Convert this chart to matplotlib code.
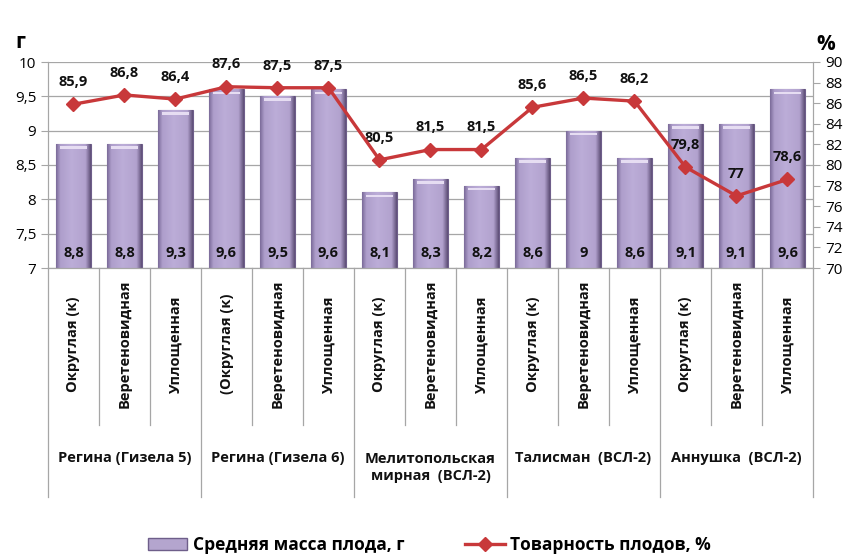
import numpy as np
import matplotlib
matplotlib.use('Agg')
import matplotlib.pyplot as plt
from matplotlib.colors import LinearSegmentedColormap
from matplotlib.patches import Rectangle
from matplotlib.lines import Line2D
import matplotlib.transforms as mtransforms

plt.rcParams['font.family'] = ['Open Sans', 'DejaVu Sans']

# данные
forms = ['Округлая (к)', 'Веретеновидная', 'Уплощенная',
         '(Округлая (к)', 'Веретеновидная', 'Уплощенная',
         'Округлая (к)', 'Веретеновидная', 'Уплощенная',
         'Округлая (к)', 'Веретеновидная', 'Уплощенная',
         'Округлая (к)', 'Веретеновидная', 'Уплощенная']
groups = ['Регина (Гизела 5)', 'Регина (Гизела 6)', 'Мелитопольская\nмирная  (ВСЛ-2)',
          'Талисман  (ВСЛ-2)', 'Аннушка  (ВСЛ-2)']
mass = [8.8, 8.8, 9.3, 9.6, 9.5, 9.6, 8.1, 8.3, 8.2, 8.6, 9, 8.6, 9.1, 9.1, 9.6]
market = [85.9, 86.8, 86.4, 87.6, 87.5, 87.5, 80.5, 81.5, 81.5, 85.6, 86.5, 86.2, 79.8, 77, 78.6]


def fmt(v):
    s = ('%g' % v).replace('.', ',')
    return s


fig = plt.figure(figsize=(8.5, 5.54), dpi=100)
ax = fig.add_axes([48 / 850, 1 - 268 / 554, (813 - 48) / 850, (268 - 62) / 554])
ax2 = ax.twinx()

x = np.arange(len(mass))
bw = 0.68

# столбцы с градиентом
cmap = LinearSegmentedColormap.from_list('bar', [(0, '#7C6C9A'), (0.12, '#AE9ECB'), (0.45, '#BCADD8'),
                                                 (0.85, '#B2A2CE'), (1, '#5F5078')])
grad = np.linspace(0, 1, 64).reshape(1, -1)
bars = ax.bar(x, [m - 7 for m in mass], bw, bottom=7, color='#B4A5CE', edgecolor='#6E5E8A',
              linewidth=0.8, zorder=2)
for b in bars:
    x0, y0 = b.get_x(), b.get_y()
    im = ax.imshow(grad, extent=[x0, x0 + b.get_width(), y0, y0 + b.get_height()],
                   aspect='auto', cmap=cmap, zorder=2.1)
    im.set_clip_path(b)
    # светлая верхняя кромка
    ax.add_patch(Rectangle((x0 + 0.08, y0 + b.get_height() - 0.07), b.get_width() - 0.16, 0.04,
                           color='#E6DDF2', zorder=2.2, lw=0))

for xi, m in zip(x, mass):
    ax.text(xi, 7.22, fmt(m), ha='center', va='center', fontsize=10.5, fontweight='bold',
            color='#111111', zorder=3)

ax.set_xlim(-0.5, len(mass) - 0.5)
ax.set_ylim(7, 10)
ax.set_yticks(np.arange(7, 10.01, 0.5))
ax.set_yticklabels([fmt(v) for v in np.arange(7, 10.01, 0.5)])
ax.yaxis.grid(True, color='#A6A6A6', lw=0.9, zorder=0)
ax.set_axisbelow(True)
ax.set_xticks([])
ax.tick_params(axis='y', length=5, color='#A6A6A6', labelsize=11)

ax2.plot(x, market, color='#C8383A', lw=2.4, marker='D', markersize=7, zorder=5)
for xi, v in zip(x, market):
    ax2.annotate(fmt(v), (xi, v), xytext=(0, 16), textcoords='offset points', ha='center',
                 va='center', fontsize=10.5, fontweight='bold', color='#111111')
ax2.set_ylim(70, 90)
ax2.set_yticks(np.arange(70, 91, 2))
ax2.tick_params(axis='y', length=5, color='#A6A6A6', labelsize=11)

for a in (ax, ax2):
    for s in a.spines.values():
        s.set_color('#A6A6A6')
    a.spines['top'].set_visible(False)

# подписи категорий под осью
tr = mtransforms.blended_transform_factory(ax.transData, ax.transAxes)
for i in range(len(mass) + 1):
    bottom = -1.11 if i % 3 == 0 else -0.762
    ax.plot([i - 0.5, i - 0.5], [0, bottom], transform=tr, color='#A6A6A6', lw=0.9, clip_on=False)
for xi, f in zip(x, forms):
    ax.text(xi, -0.37, f, transform=tr, rotation=90, ha='center', va='center', fontsize=10.5,
            fontweight='bold', color='#111111')
for g, name in enumerate(groups):
    ypos = -0.97 if '\n' in name else -0.92
    ax.text(3 * g + 1, ypos, name, transform=tr, ha='center', va='center', fontsize=10.5,
            fontweight='bold', color='#111111', linespacing=1.3)

fig.text(15 / 850, 1 - 42 / 554, 'г', fontsize=15, fontweight='bold', ha='left', va='center')
fig.text(826 / 850, 1 - 44 / 554, '%', fontsize=15, fontweight='bold', ha='center', va='center')

h1 = Rectangle((0, 0), 1, 1, facecolor='#B4A5CE', edgecolor='#6E5E8A')
h2 = Line2D([], [], color='#C8383A', lw=2.4, marker='D', markersize=7)
fig.legend([h1, h2], ['Средняя масса плода, г', 'Товарность плодов, %'], loc='center',
           bbox_to_anchor=(0.505, 1 - 545 / 554), ncol=2, frameon=False,
           prop={'weight': 'bold', 'size': 12.5}, handlelength=2.3, columnspacing=3.5,
           handletextpad=0.3)

fig.savefig('out.png', dpi=100)
